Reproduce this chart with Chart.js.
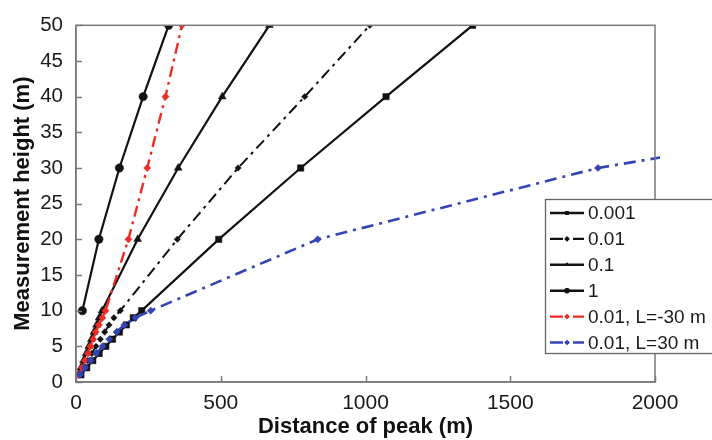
<!DOCTYPE html>
<html><head><meta charset="utf-8">
<script src="https://cdn.jsdelivr.net/npm/chart.js@4.4.1/dist/chart.umd.min.js"></script>
<style>html,body{margin:0;padding:0;background:#fff;}#wrap{width:712px;height:440px;}</style>
</head><body><div id="wrap"><canvas id="c" width="712" height="440"></canvas></div>
<script>
const seriesLabels = ['0.001', '0.01', '0.1', '1', '0.01, L=-30 m', '0.01, L=30 m'];
const heights = [1, 2, 3, 4, 5, 6, 7, 8, 9, 10, 20, 30, 40, 50];
const dist0001 = [17, 37, 58, 80, 103, 126, 150, 174, 198, 227, 493, 776, 1071, 1370];
const dist001 = [13, 27, 41, 55, 69, 84, 99, 114, 131, 153, 350, 560, 790, 1015];
const dist01 = [8, 17, 26, 35, 44, 53, 62, 71, 80, 90, 213, 353, 505, 668];
const heights1 = [10, 20, 30, 40, 50];
const dist1 = [22, 79, 150, 232, 320];
const distLneg = [10, 21, 31, 41, 50, 59, 68, 79, 91, 102, 181, 246, 309, 366];
const heightsLpos = [1, 2, 3, 4, 5, 6, 7, 8, 9, 10, 20, 30, 40];
const distLpos = [14, 31, 50, 70, 92, 115, 140, 167, 205, 258, 835, 1803, 3260];
const xTickValues = [0, 500, 1000, 1500, 2000];
const yTickValues = [0, 5, 10, 15, 20, 25, 30, 35, 40, 45, 50];
const xTitle = 'Distance of peak (m)';
const yTitle = 'Measurement height (m)';

const pts = (xs, ys) => xs.map((x, i) => ({x: x, y: ys[i]}));
const FONT = "'Liberation Sans', Arial, Helvetica, sans-serif";
const AXIS = '#7a7a7a';
const BLACK = '#121212', RED = '#ee2b24', BLUE = '#3344b4';
const DASHDOT = [11, 5, 3, 5];

const datasets = [
  {label: seriesLabels[0], data: pts(dist0001, heights), borderColor: BLACK, backgroundColor: BLACK,
   borderWidth: 2.2, pointStyle: 'rect', pointRadius: 4.5, order: 0},
  {label: seriesLabels[1], data: pts(dist001, heights), borderColor: BLACK, backgroundColor: BLACK,
   borderWidth: 2, borderDash: DASHDOT, pointStyle: 'rectRot', pointRadius: 3.2, order: 0},
  {label: seriesLabels[2], data: pts(dist01, heights), borderColor: BLACK, backgroundColor: BLACK,
   borderWidth: 2.2, pointStyle: 'triangle', pointRadius: 4.5, order: 0},
  {label: seriesLabels[3], data: pts(dist1, heights1), borderColor: BLACK, backgroundColor: BLACK,
   borderWidth: 2.2, pointStyle: 'circle', pointRadius: 4.2, order: 0},
  {label: seriesLabels[4], data: pts(distLneg, heights), borderColor: RED, backgroundColor: RED,
   borderWidth: 2.4, borderDash: DASHDOT, pointStyle: 'rectRot', pointRadius: 3.6, order: -1},
  {label: seriesLabels[5], data: pts(distLpos, heightsLpos), borderColor: BLUE, backgroundColor: BLUE,
   borderWidth: 2.6, borderDash: [12, 6, 3, 6], pointStyle: 'rectRot', pointRadius: 3.6, order: -2,
   clip: {left: 6, top: 6, right: 5, bottom: 6}}
];
datasets.forEach(d => { d.showLine = true; d.fill = false; d.tension = 0; d.pointBorderWidth = 0.5;
  d.pointBorderColor = d.borderColor; d.pointHoverRadius = d.pointRadius; });

const framePlugin = {
  id: 'frame',
  afterDatasetsDraw(chart) {
    const ctx = chart.ctx, a = chart.chartArea;
    ctx.save();
    ctx.strokeStyle = AXIS; ctx.lineWidth = 1.5;
    ctx.strokeRect(a.left, a.top, a.right - a.left, a.bottom - a.top);
    ctx.beginPath();
    const xs = chart.scales.x, ys = chart.scales.y;
    xTickValues.forEach(v => { const p = Math.round(xs.getPixelForValue(v)) + 0.5;
      ctx.moveTo(p, a.bottom); ctx.lineTo(p, a.bottom - 6); });
    yTickValues.forEach(v => { const p = Math.round(ys.getPixelForValue(v)) + 0.5;
      ctx.moveTo(a.left, p); ctx.lineTo(a.left + 6, p); });
    ctx.stroke();
    ctx.restore();
  },
  afterDraw(chart) {
    const ctx = chart.ctx;
    ctx.save();
    const bx = 545.5, by = 199.5, bw = 180, bh = 154;
    ctx.fillStyle = '#fff'; ctx.fillRect(bx, by, bw, bh);
    ctx.strokeStyle = '#666'; ctx.lineWidth = 1.3; ctx.strokeRect(bx, by, bw, bh);
    ctx.font = "19px " + FONT; ctx.textBaseline = 'middle'; ctx.textAlign = 'left';
    chart.data.datasets.forEach((d, i) => {
      const y = 213 + i * 25.9;
      ctx.strokeStyle = d.borderColor; ctx.lineWidth = 2.4;
      ctx.setLineDash(d.borderDash ? [13, 4, 2, 4] : []);
      ctx.beginPath(); ctx.moveTo(550, y); ctx.lineTo(584, y); ctx.stroke();
      ctx.setLineDash([]);
      ctx.fillStyle = d.borderColor;
      Chart.helpers.drawPoint(ctx, {pointStyle: d.pointStyle, radius: 2.6, rotation: 0, borderWidth: 0}, 567, y);
      ctx.fill();
      ctx.fillStyle = '#1a1a1a';
      ctx.fillText(d.label, 588, y + 1);
    });
    ctx.restore();
  }
};

new Chart(document.getElementById('c'), {
  type: 'line',
  data: {datasets: datasets},
  plugins: [framePlugin],
  options: {
    responsive: false, devicePixelRatio: 1, animation: false,
    layout: {padding: {left: 0, top: 19, right: 57, bottom: 0}},
    plugins: {legend: {display: false}, tooltip: {enabled: false}},
    scales: {
      x: {type: 'linear', min: 0, max: 2000,
        afterBuildTicks: s => { s.ticks = xTickValues.map(v => ({value: v})); },
        afterFit: s => { s.height = 58; },
        grid: {drawOnChartArea: false, drawTicks: false},
        border: {display: true, color: AXIS, width: 1.5},
        ticks: {color: '#1a1a1a', font: {family: FONT, size: 21}, padding: 9, maxRotation: 0,
          callback: v => String(v)},
        title: {display: true, text: xTitle, color: '#111', font: {family: FONT, size: 22, weight: 'bold'},
          padding: {top: 0, bottom: 0}}
      },
      y: {type: 'linear', min: 0, max: 50,
        afterBuildTicks: s => { s.ticks = yTickValues.map(v => ({value: v})); },
        afterFit: s => { s.width = 76; },
        grid: {drawOnChartArea: false, drawTicks: false},
        border: {display: true, color: AXIS, width: 1.5},
        ticks: {color: '#1a1a1a', font: {family: FONT, size: 20.5}, padding: 13, callback: v => String(v)},
        title: {display: true, text: yTitle, color: '#111', font: {family: FONT, size: 22, weight: 'bold'},
          padding: {top: 10, bottom: 0}}
      }
    }
  }
});
</script></body></html>
